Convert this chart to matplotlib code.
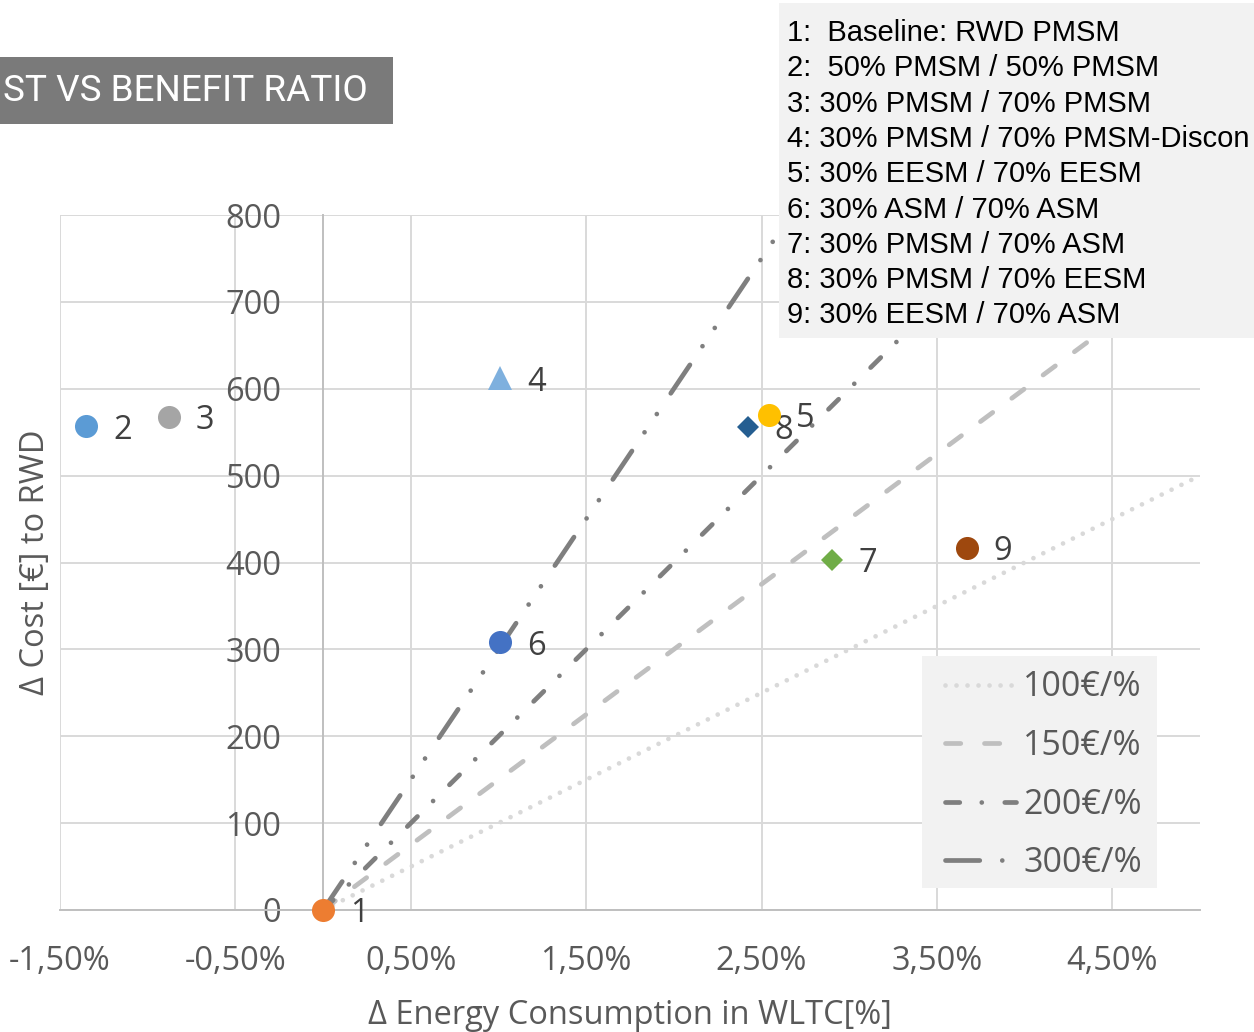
import matplotlib
matplotlib.use('Agg')
import matplotlib.pyplot as plt
from matplotlib.lines import Line2D
from matplotlib.patches import Rectangle

# Datos de los puntos (energia en %, costo en EUR)
labels = ['1', '2', '3', '4', '5', '6', '7', '8', '9']
energy = [0.0, -1.35, -0.88, 1.01, 2.54, 1.01, 2.90, 2.42, 3.67]
cost = [0, 557, 568, 612, 570, 308, 403, 556, 417]
colors = ['#ED7D31', '#5B9BD5', '#A5A5A5', '#7EB0DE', '#FFC000',
          '#4472C4', '#70AD47', '#255E91', '#9E480E']
markers = ['o', 'o', 'o', '^', 'o', 'o', 'D', 'D', 'o']

# Lineas de razon costo / beneficio
ratios = [100, 150, 200, 300]
ratio_labels = ['100€/%', '150€/%', '200€/%', '300€/%']
ratio_colors = ['#D9D9D9', '#BFBFBF', '#7F7F7F', '#7F7F7F']
x_range = [0.0, 5.0]

descriptions = ['1:  Baseline: RWD PMSM',
                '2:  50% PMSM / 50% PMSM',
                '3: 30% PMSM / 70% PMSM',
                '4: 30% PMSM / 70% PMSM-Discon',
                '5: 30% EESM / 70% EESM',
                '6: 30% ASM / 70% ASM',
                '7: 30% PMSM / 70% ASM',
                '8: 30% PMSM / 70% EESM',
                '9: 30% EESM / 70% ASM']

xticks = [-1.5, -0.5, 0.5, 1.5, 2.5, 3.5, 4.5]
yticks = [0, 100, 200, 300, 400, 500, 600, 700, 800]

W, H = 1254, 1032
LW = 3.4
lw_px = LW / 0.72


def patron(seq_px):
    # seq en pixeles visibles -> unidades de matplotlib (escaladas por lw)
    return (0, [p * 0.72 / LW for p in seq_px])


estilos = [patron([0.01, 11]),
           patron([20 - lw_px, 39 - 20 + lw_px]),
           patron([19 - lw_px, 22, 0.01, 23]),
           patron([39 - lw_px, 22.5, 0.01, 22, 0.01, 25])]

txt = '#595959'
fs = 23.5
plt.rcParams['font.family'] = ['Open Sans', 'DejaVu Sans']

fig = plt.figure(figsize=(W / 100, H / 100), dpi=100)
ax = fig.add_axes([60 / W, 1 - 910 / H, 1140 / W, 695 / H])

# el eje y cruza en x=0 (hay que hacerlo antes de fijar los ticks)
ax.spines['top'].set_visible(False)
ax.spines['right'].set_visible(False)
ax.spines['left'].set_position(('data', 0))
ax.spines['left'].set_color('#BFBFBF')
ax.spines['left'].set_linewidth(1.4)
ax.spines['bottom'].set_color('#BFBFBF')
ax.spines['bottom'].set_linewidth(1.4)

ax.set_xlim(-1.5, 5.0)
ax.set_ylim(0, 800)

for r, c, ls, lab in zip(ratios, ratio_colors, estilos, ratio_labels):
    ax.plot(x_range, [r * x for x in x_range], color=c, lw=LW, linestyle=ls,
            dash_capstyle='round', zorder=2, label=lab)

for x, y, c, m, lab in zip(energy, cost, colors, markers, labels):
    ms = 11.7 if m == 'D' else 16.6
    ax.plot([x], [y], marker=m, ms=ms, color=c, mew=0, ls='none',
            zorder=4, clip_on=False)
    ax.annotate(lab, (x, y), xytext=(19.5, 0), textcoords='offset points',
                ha='left', va='center_baseline', fontsize=fs, color='#404040',
                annotation_clip=False)

ax.set_xticks(xticks)
ax.set_xticklabels([('%.2f%%' % v).replace('.', ',') for v in xticks])
ax.set_yticks(yticks)
ax.set_yticklabels([str(v) for v in yticks])
ax.tick_params(axis='x', length=0, pad=25, labelsize=fs, labelcolor=txt)
ax.tick_params(axis='y', length=0, pad=30, labelsize=fs, labelcolor=txt)

ax.grid(True, color='#D9D9D9', lw=1.4, zorder=0)
ax.set_axisbelow(True)

ax.set_xlabel('Δ Energy Consumption in WLTC[%]', fontsize=fs, color=txt)
ax.xaxis.set_label_coords(0.5, -0.152)
ax.xaxis.label.set_va('center')
ax.set_ylabel('Δ Cost [€] to RWD', fontsize=fs, color=txt)
ax.yaxis.set_label_coords(-0.0219, 0.5)
ax.yaxis.label.set_va('center')

# fondo de la leyenda
ax.add_patch(Rectangle((922 / W, 1 - 888 / H), 235 / W, 232 / H,
                       transform=fig.transFigure, facecolor='#F2F2F2',
                       edgecolor='none', zorder=4.5, clip_on=False))
handles = [Line2D([0], [0], color=c, lw=LW, linestyle=ls, dash_capstyle='round')
           for c, ls in zip(ratio_colors, estilos)]
leg = ax.legend(handles, ratio_labels, loc='lower left',
                bbox_to_anchor=(945 / W, 1 - 880 / H), bbox_transform=fig.transFigure,
                borderaxespad=0, frameon=False, borderpad=0,
                labelspacing=0.72, handlelength=2.1, handletextpad=0.2,
                prop={'size': 24.5})
for t in leg.get_texts():
    t.set_color(txt)

# Titulo (recortado a la izquierda)
fig.add_artist(Rectangle((0, 1 - 124 / H), 393 / W, 67 / H, transform=fig.transFigure,
                         facecolor='#7A7A7A', edgecolor='none', zorder=5))
fig.text(3 / W, 1 - 91 / H, 'ST VS BENEFIT RATIO', color='white', family='Roboto',
         fontsize=26.6, ha='left', va='center', zorder=6)

# Cuadro con la descripcion de los casos
fig.add_artist(Rectangle((779 / W, 1 - 338 / H), (W - 779) / W, 335 / H,
                         transform=fig.transFigure, facecolor='#F2F2F2',
                         edgecolor='none', zorder=5))
for i, d in enumerate(descriptions):
    fig.text(787 / W, 1 - (41 + 35.3 * i) / H, d, color='black',
             family=['Liberation Sans', 'DejaVu Sans'], fontsize=21,
             ha='left', va='baseline', zorder=6)

fig.savefig('out.png', dpi=100)
